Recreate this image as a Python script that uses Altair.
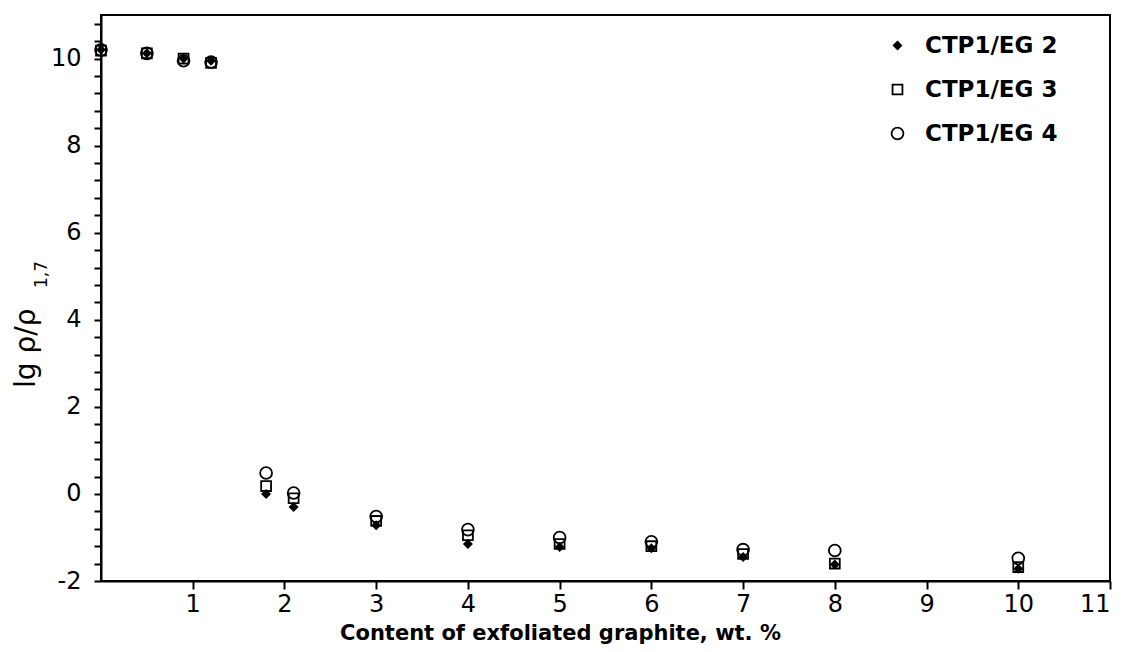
import altair as alt
import pandas as pd

# ---- data ----
content = [0, 0.5, 0.9, 1.2, 1.8, 2.1, 3, 4, 5, 6, 7, 8, 10]
eg2 = [10.2, 10.12, 10.0, 9.95, 0.0, -0.3, -0.72, -1.15, -1.22, -1.25, -1.45, -1.62, -1.72]
eg3 = [10.18, 10.12, 10.0, 9.9, 0.18, -0.1, -0.62, -0.95, -1.15, -1.2, -1.38, -1.6, -1.68]
eg4 = [10.2, 10.12, 9.95, 9.92, 0.48, 0.02, -0.52, -0.82, -1.0, -1.1, -1.28, -1.3, -1.48]
series_names = ["CTP1/EG 2", "CTP1/EG 3", "CTP1/EG 4"]
x_ticks = [1, 2, 3, 4, 5, 6, 7, 8, 9, 10, 11]
y_ticks = [round(-2 + 0.4 * k, 1) for k in range(33)]

rows = []
for name, vals in zip(series_names, [eg2, eg3, eg4]):
    for xv, yv in zip(content, vals):
        rows.append({"x": xv, "y": yv, "series": name})
df = pd.DataFrame(rows)

FONT = "DejaVu Sans"


def leg():
    return alt.Legend(title=None, orient="none", legendX=785, legendY=19,
                      labelFontSize=23, labelFontWeight="bold", labelFont=FONT,
                      labelColor="black", rowPadding=20, symbolStrokeColor="black",
                      symbolStrokeWidth=1.8, labelOffset=16, padding=0)


points = alt.Chart(df).mark_point(strokeWidth=1.8, opacity=1).encode(
    x=alt.X("x:Q", scale=alt.Scale(domain=[0, 11], nice=False, zero=False),
            axis=alt.Axis(values=x_ticks, title="Content of exfoliated graphite, wt. %",
                          grid=False, tickSize=8, labelPadding=3, labelFontSize=24,
                          domainColor="black", domainWidth=2, tickColor="black", tickWidth=2,
                          titleFontSize=21, titleFontWeight="bold", titleX=459, titleY=58,
                          titleBaseline="alphabetic", titleAlign="center")),
    y=alt.Y("y:Q", scale=alt.Scale(domain=[-2, 11], nice=False, zero=False),
            axis=alt.Axis(values=y_ticks, title=None, grid=False, tickSize=7,
                          domainColor="black", domainWidth=2, tickColor="black", tickWidth=2,
                          labelPadding=13, labelFontSize=24,
                          labelExpr="abs(datum.value - round(datum.value/2)*2) < 0.01 ? toString(round(datum.value)) : ''")),
    shape=alt.Shape("series:N", scale=alt.Scale(domain=series_names,
                                                range=["diamond", "square", "circle"]),
                    legend=leg()),
    fill=alt.Fill("series:N", scale=alt.Scale(domain=series_names,
                                              range=["black", "transparent", "transparent"]),
                  legend=leg()),
    stroke=alt.Stroke("series:N", scale=alt.Scale(domain=series_names,
                                                  range=["black", "black", "black"]),
                      legend=leg()),
    size=alt.Size("series:N", scale=alt.Scale(domain=series_names, range=[55, 140, 130]),
                  legend=leg()),
)

one = alt.Data(values=[{}])
ytitle = alt.Chart(one).mark_text(angle=270, align="left", baseline="alphabetic",
                                  fontSize=28, font=FONT, color="black").encode(
    x=alt.value(-66), y=alt.value(373), text=alt.value("lg ρ/ρ"))
ysub = alt.Chart(one).mark_text(angle=270, align="left", baseline="alphabetic",
                                fontSize=17, font=FONT, color="black").encode(
    x=alt.value(-54), y=alt.value(273), text=alt.value("1,7"))

chart = alt.layer(points, ytitle, ysub).properties(
    width=1009, height=566,
    background="white",
    autosize=alt.AutoSizeParams(type="none"),
    padding={"left": 93, "top": 7, "right": 10, "bottom": 63},
).configure_view(stroke="black", strokeWidth=2).configure_axis(
    labelFont=FONT, titleFont=FONT, labelColor="black", titleColor="black"
)

chart.save("out.html", embed_options={"renderer": "svg", "actions": False})
